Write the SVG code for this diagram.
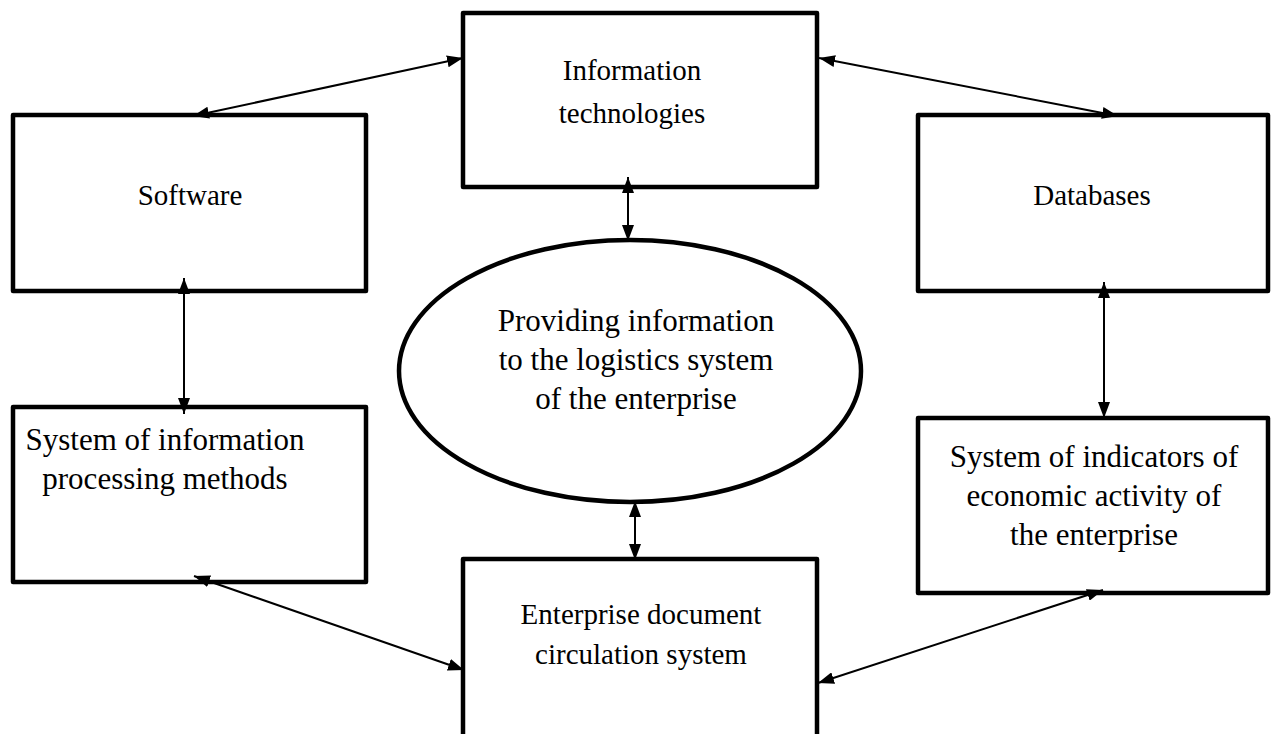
<svg xmlns="http://www.w3.org/2000/svg" width="1277" height="734" viewBox="0 0 1277 734">
<style>
.box{fill:#fff;stroke:#000;stroke-width:4.5;stroke-linejoin:round}
.t{font-family:"Liberation Serif","Times New Roman",serif;fill:#000;text-anchor:middle}
.s{font-size:29px}
.b{font-size:31px}
.c{stroke:#000;stroke-width:2;fill:none;marker-start:url(#ah);marker-end:url(#ah)}
</style>
<defs>
<marker id="ah" viewBox="0 0 16 12" refX="16" refY="6" markerWidth="16" markerHeight="12" markerUnits="userSpaceOnUse" orient="auto-start-reverse">
<path d="M0,0 L16,6 L0,12 Z" fill="#000"/>
</marker>
</defs>
<rect width="1277" height="734" fill="#fff"/>
<g id="n-it"><rect class="box" x="463" y="13" width="354" height="174"/><text class="t s" x="632" y="80">Information</text><text class="t s" x="632" y="123">technologies</text></g>
<g id="n-software"><rect class="box" x="13" y="115" width="353" height="176"/><text class="t s" x="190" y="205">Software</text></g>
<g id="n-databases"><rect class="box" x="918" y="115" width="350" height="176"/><text class="t s" x="1092" y="205">Databases</text></g>
<g id="n-center"><ellipse class="box" cx="630" cy="371" rx="231" ry="131"/><text class="t b" x="636" y="331">Providing information</text><text class="t b" x="636" y="370">to the logistics system</text><text class="t b" x="636" y="409">of the enterprise</text></g>
<g id="n-methods"><rect class="box" x="13" y="407" width="353" height="175"/><text class="t b" x="165" y="450">System of information</text><text class="t b" x="165" y="489">processing methods</text></g>
<g id="n-indicators"><rect class="box" x="918" y="418" width="350" height="175"/><text class="t b" x="1094" y="467">System of indicators of</text><text class="t b" x="1094" y="506">economic activity of</text><text class="t b" x="1094" y="545">the enterprise</text></g>
<g id="n-doc"><rect class="box" x="463" y="559" width="354" height="190"/><text class="t s" x="641" y="624">Enterprise document</text><text class="t s" x="641" y="664">circulation system</text></g>
<g id="connectors">
<line class="c" x1="193" y1="116" x2="463" y2="58"/>
<line class="c" x1="819" y1="58" x2="1118" y2="116"/>
<line class="c" x1="628" y1="177" x2="628" y2="241"/>
<line class="c" x1="184" y1="278" x2="184" y2="414"/>
<line class="c" x1="1104" y1="282" x2="1104" y2="418"/>
<line class="c" x1="635" y1="501" x2="635" y2="560"/>
<line class="c" x1="194" y1="576" x2="464" y2="670"/>
<line class="c" x1="818" y1="683" x2="1103" y2="590"/>
</g>
</svg>
